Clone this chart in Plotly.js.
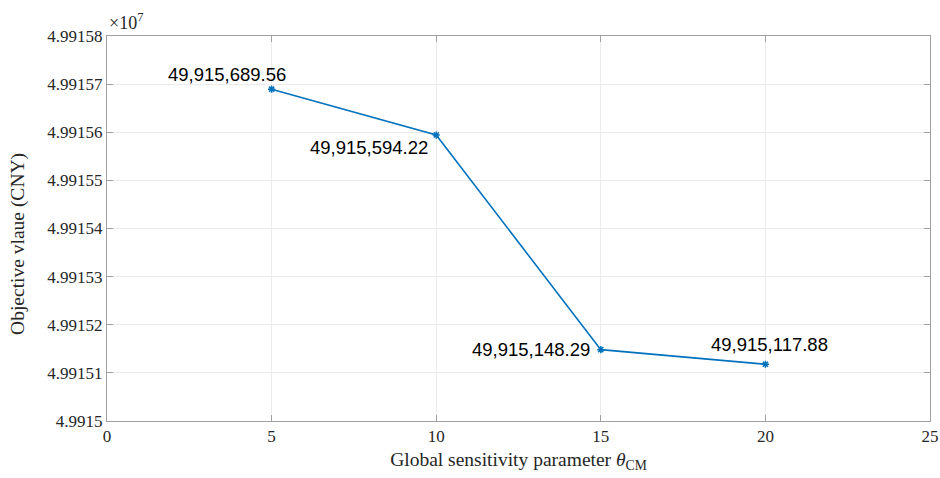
<!DOCTYPE html>
<html>
<head>
<meta charset="utf-8">
<script src="https://cdn.plot.ly/plotly-3.0.1.min.js"></script>
<style>html,body{margin:0;padding:0;background:#fff;}#chart{width:940px;height:478px;}</style>
</head>
<body>
<div id="chart"></div>
<script>
var thetaCM = [5, 10, 15, 20];
var objectiveValue = [49915689.56, 49915594.22, 49915148.29, 49915117.88];
var pointLabels = ["49,915,689.56", "49,915,594.22", "49,915,148.29", "49,915,117.88"];
var xTicks = [0, 5, 10, 15, 20, 25];
var yTickVals = [49915000, 49915100, 49915200, 49915300, 49915400, 49915500, 49915600, 49915700, 49915800];
var yTickText = ["4.9915", "4.99151", "4.99152", "4.99153", "4.99154", "4.99155", "4.99156", "4.99157", "4.99158"];
var labelShiftX = [-45, -67, -70, 4];
var labelShiftY = [15, -12, 0, 20];

var serif = 'Liberation Serif, Times New Roman, serif';

var trace = {
  x: thetaCM, y: objectiveValue, type: 'scatter', mode: 'lines+markers',
  line: {color: '#0072BD', width: 1.6},
  marker: {symbol: 'asterisk-open', size: 6, color: '#0072BD', line: {color: '#0072BD', width: 1.5}},
  hoverinfo: 'skip'
};

var annotations = thetaCM.map(function (xv, i) {
  return {x: xv, y: objectiveValue[i], xref: 'x', yref: 'y', text: pointLabels[i], showarrow: false,
    xshift: labelShiftX[i], yshift: labelShiftY[i],
    font: {family: 'Liberation Sans, Arial, sans-serif', size: 18.5, color: '#000'}};
});
annotations.push({xref: 'paper', yref: 'paper', x: 0, y: 1, xanchor: 'left', yanchor: 'bottom', yshift: 1,
  text: '×10<sup>7</sup>', showarrow: false,
  font: {family: serif, size: 18, color: '#262626'}});
annotations.push({xref: 'paper', yref: 'paper', x: 0, y: 0.46, xanchor: 'center', yanchor: 'middle', xshift: -89,
  textangle: -90, text: 'Objective vlaue (CNY)', showarrow: false,
  font: {family: serif, size: 19.5, color: '#262626'}});

var axisCommon = {
  showline: true, linecolor: '#a0a0a0', linewidth: 1, mirror: 'ticks',
  ticks: 'inside', ticklen: 6, tickcolor: '#a0a0a0',
  showgrid: true, gridcolor: '#ebebeb', gridwidth: 1, zeroline: false,
  tickfont: {family: serif, size: 17, color: '#262626'}
};

var layout = {
  width: 940, height: 478,
  margin: {l: 107, r: 10, t: 36, b: 57},
  paper_bgcolor: '#fff', plot_bgcolor: '#fff',
  showlegend: false,
  xaxis: Object.assign({}, axisCommon, {
    range: [0, 25], tickvals: xTicks, ticktext: xTicks.map(String),
    title: {text: 'Global sensitivity parameter <i>θ</i><sub>CM</sub>', standoff: 6,
      font: {family: serif, size: 19.5, color: '#262626'}}
  }),
  yaxis: Object.assign({}, axisCommon, {
    range: [49915000, 49915800], tickvals: yTickVals, ticktext: yTickText
  }),
  annotations: annotations
};

Plotly.newPlot('chart', [trace], layout, {displayModeBar: false, staticPlot: true});
</script>
</body>
</html>
